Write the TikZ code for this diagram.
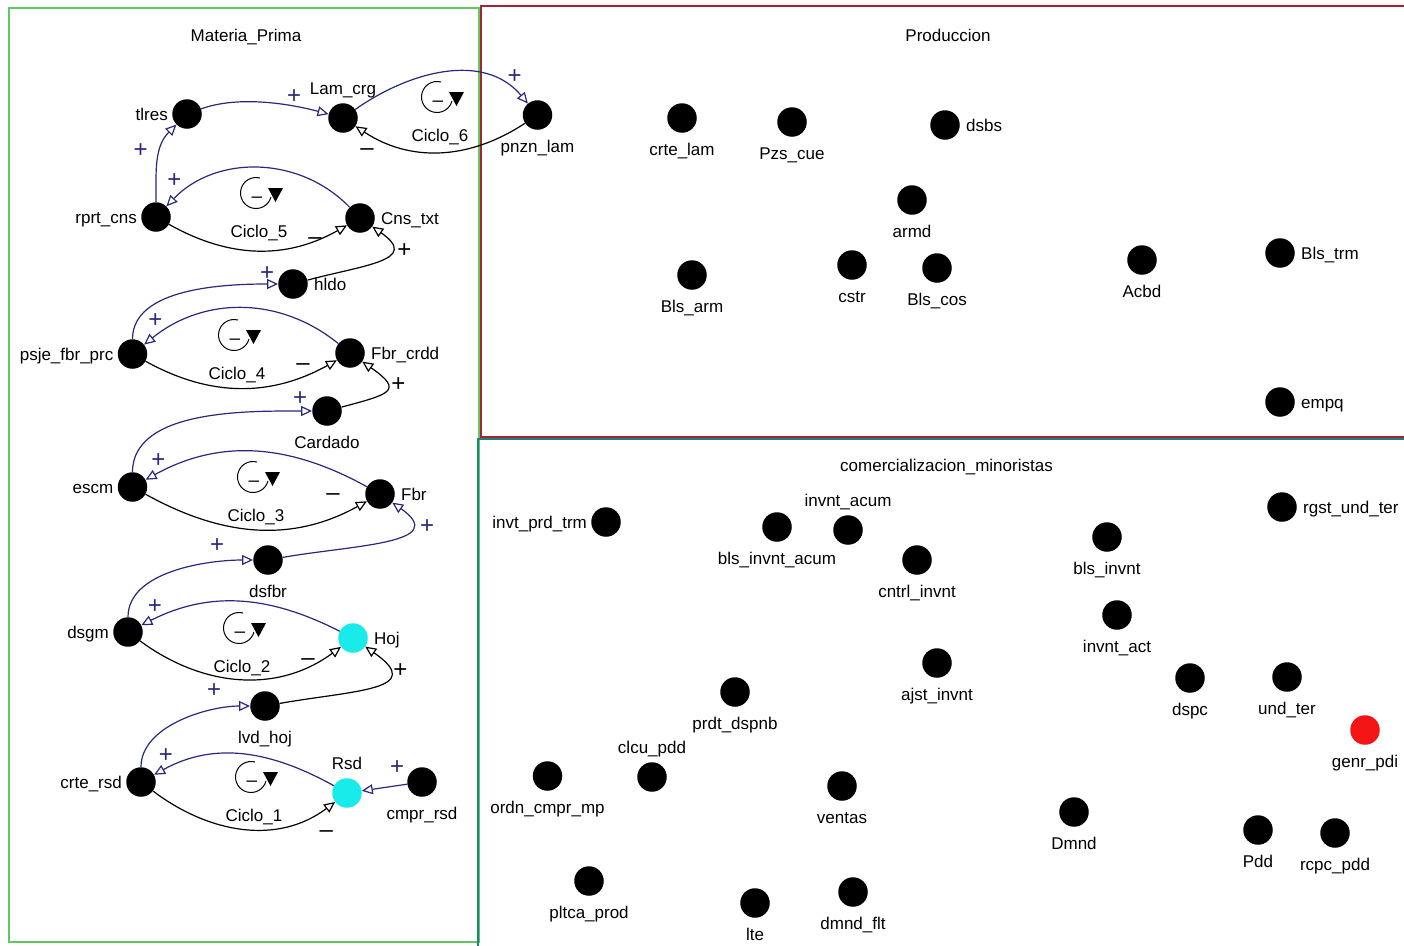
\documentclass[tikz,border=0pt]{standalone}
\usepackage[no-math]{fontspec}
\setmainfont{Liberation Sans}
\usetikzlibrary{arrows.meta,positioning}

\definecolor{lnkblue}{RGB}{40,40,125}
\definecolor{mpgreen}{RGB}{95,200,95}
\definecolor{prodred}{RGB}{165,35,55}
\definecolor{comteal}{RGB}{30,130,120}
\definecolor{dotcyan}{RGB}{25,235,235}
\definecolor{dotred}{RGB}{245,20,20}

\begin{document}
\begin{tikzpicture}[x=1pt, y=1pt,
  font=\fontsize{17}{20}\selectfont,
  txt/.style={inner sep=2pt, text height=12.5pt, text depth=3.5pt},
  every label/.style={inner sep=2pt, text height=12.5pt, text depth=3.5pt},
  var/.style={circle, fill=black, minimum size=29.5pt, inner sep=0pt},
  lb/.style={label={[label distance=8pt]below:#1}},
  la/.style={label={[label distance=3pt]above:#1}},
  ll/.style={label={[label distance=2pt, text height=13pt, text depth=0pt]left:#1}},
  lr/.style={label={[label distance=4pt, text height=13pt, text depth=0pt]right:#1}},
  lnk/.style={line width=1.2pt, lnkblue, -{Triangle[length=11pt, width=10pt, fill=white]}},
  pol/.style={font=\fontsize{24}{26}\selectfont, inner sep=0pt, text height=15pt, text depth=0pt},
  sgn/.style={font=\fontsize{19}{21}\selectfont, inner sep=0pt, text height=10.5pt, text depth=0pt}]

  \clip (0,0) rectangle (1404,-945);
  \useasboundingbox (0,0) rectangle (1404,-945);

  % sectors
  \draw[mpgreen, line width=2pt] (9,-8) rectangle (479,-942);
  \draw[prodred, line width=2pt] (481,-6) rectangle (1412,-437);
  \draw[comteal, line width=2pt] (478,-439) rectangle (1412,-952);
  \node[txt] (mp) at (246,-36.5) {Materia\_Prima};
  \node[txt] (prod) at (948,-36.5) {Produccion};
  \node[txt] (com) at (946.5,-466.5) {comercializacion\_minoristas};

  % Materia_Prima
  \node[var, ll=tlres] (tlres) at (187,-114) {};
  \node[var, la=Lam\_crg] (lamcrg) at (343,-118) {};
  \node[var, lb=pnzn\_lam] (pnznlam) at (537.5,-115) {};
  \node[var, ll=rprt\_cns] (rprtcns) at (156,-217) {};
  \node[var, lr=Cns\_txt] (cnstxt) at (360,-218) {};
  \node[var, lr=hldo] (hldo) at (293,-284) {};
  \node[var, ll=psje\_fbr\_prc] (psje) at (132.5,-354) {};
  \node[var, lr=Fbr\_crdd] (fbrcrdd) at (350,-353) {};
  \node[var, lb=Cardado] (cardado) at (327,-411) {};
  \node[var, ll=escm] (escm) at (132.5,-487) {};
  \node[var, lr=Fbr] (fbr) at (380,-494) {};
  \node[var, lb=dsfbr] (dsfbr) at (268,-560) {};
  \node[var, ll=dsgm] (dsgm) at (128,-632) {};
  \node[var, fill=dotcyan, lr=Hoj] (hoj) at (353,-638) {};
  \node[var, lb=lvd\_hoj] (lvdhoj) at (265,-706) {};
  \node[var, ll=crte\_rsd] (crtersd) at (141,-782) {};
  \node[var, fill=dotcyan, la=Rsd] (rsd) at (347,-793) {};
  \node[var, lb=cmpr\_rsd] (cmprrsd) at (422,-782) {};

  % Produccion
  \node[var, lb=crte\_lam] (crtelam) at (682,-118) {};
  \node[var, lb=Pzs\_cue] (pzscue) at (792,-122) {};
  \node[var, lr=dsbs] (dsbs) at (945,-125) {};
  \node[var, lb=armd] (armd) at (912,-200) {};
  \node[var, lb=Bls\_arm] (blsarm) at (692,-275) {};
  \node[var, lb=cstr] (cstr) at (852,-265) {};
  \node[var, lb=Bls\_cos] (blscos) at (937,-268) {};
  \node[var, lb=Acbd] (acbd) at (1142,-260) {};
  \node[var, lr=Bls\_trm] (blstrm) at (1280,-253) {};
  \node[var, lr=empq] (empq) at (1280,-402) {};

  % comercializacion_minoristas
  \node[var, ll=invt\_prd\_trm] (invtprdtrm) at (606,-522) {};
  \node[var, lb=bls\_invnt\_acum] (blsinvntacum) at (777,-527) {};
  \node[var, la=invnt\_acum] (invntacum) at (848,-530) {};
  \node[var, lb=cntrl\_invnt] (cntrlinvnt) at (917,-560) {};
  \node[var, lb=bls\_invnt] (blsinvnt) at (1107,-537) {};
  \node[var, lr=rgst\_und\_ter] (rgstundter) at (1282,-507) {};
  \node[var, lb=invnt\_act] (invntact) at (1117,-615) {};
  \node[var, lb=ajst\_invnt] (ajstinvnt) at (937,-663) {};
  \node[var, lb=prdt\_dspnb] (prdtdspnb) at (735,-692) {};
  \node[var, la=clcu\_pdd] (clcupdd) at (652,-777) {};
  \node[var, lb=ordn\_cmpr\_mp] (ordncmprmp) at (547.5,-776) {};
  \node[var, lb=ventas] (ventas) at (842,-786) {};
  \node[var, lb=dspc] (dspc) at (1190,-678) {};
  \node[var, lb=und\_ter] (undter) at (1287,-677) {};
  \node[var, fill=dotred, lb=genr\_pdi] (genrpdi) at (1365,-730) {};
  \node[var, lb=Dmnd] (dmnd) at (1074,-812) {};
  \node[var, lb=Pdd] (pdd) at (1258,-830) {};
  \node[var, lb=rcpc\_pdd] (rcpcpdd) at (1335,-833) {};
  \node[var, lb=pltca\_prod] (pltcaprod) at (589,-881) {};
  \node[var, lb=lte] (lte) at (755,-903) {};
  \node[var, lb=dmnd\_flt] (dmndflt) at (853,-892) {};

  % positive links
  \path[lnk]
  (tlres) edge[out=20, in=165, looseness=0.8] node[pol, pos=1, xshift=-34.5pt, yshift=17.75pt]{+} (lamcrg)
  (lamcrg) edge[out=35, in=130] node[pol, pos=1, xshift=-13.2pt, yshift=27.4pt]{+} (pnznlam)
  (rprtcns) edge[out=90, in=225] node[pol, pos=1, xshift=-35.75pt, yshift=-25.75pt]{+} (tlres)
  (cnstxt) edge[out=134, in=46] node[pol, pos=1, xshift=7.9pt, yshift=26.6pt]{+} (rprtcns)
  (psje) edge[out=90, in=180, looseness=0.85] node[pol, pos=1, xshift=-11pt, yshift=11pt]{+} (hldo)
  (fbrcrdd) edge[out=141, in=39] node[pol, pos=1, xshift=11.2pt, yshift=24.9pt]{+} (psje)
  (escm) edge[out=90, in=180, looseness=0.85] node[pol, pos=1, xshift=-12pt, yshift=13.5pt]{+} (cardado)
  (fbr) edge[out=151, in=29] node[pol, pos=1, xshift=12.8pt, yshift=20pt]{+} (escm)
  (dsfbr) edge[out=10, in=-35, looseness=1.5] node[pol, pos=1, xshift=34.8pt, yshift=-23.5pt]{+} (fbr)
  (dsgm) edge[out=90, in=180, looseness=0.85] node[pol, pos=1, xshift=-36pt, yshift=15.5pt]{+} (dsfbr)
  (hoj) edge[out=153, in=27] node[pol, pos=1, xshift=13.6pt, yshift=18.9pt]{+} (dsgm)
  (crtersd) edge[out=90, in=180, looseness=0.85] node[pol, pos=1, xshift=-36pt, yshift=16pt]{+} (lvdhoj)
  (rsd) edge[out=151, in=29] node[pol, pos=1, xshift=11.8pt, yshift=19.5pt]{+} (crtersd)
  (cmprrsd) edge node[pol, pos=1, xshift=35.3pt, yshift=24.2pt]{+} (rsd);

  % black links
  \path[lnk, black]
  (pnznlam) edge[out=213.5, in=-33.5] node[pol, pos=1, xshift=11.6pt, yshift=-22pt]{–} (lamcrg)
  (rprtcns) edge[out=-29.5, in=209.5] node[pol, pos=1, xshift=-31.9pt, yshift=-11.6pt]{–} (cnstxt)
  (hldo) edge[out=15, in=-35, looseness=1.8] node[pol, pos=1, xshift=32.1pt, yshift=-23.7pt]{+} (cnstxt)
  (psje) edge[out=-29, in=209] node[pol, pos=1, xshift=-33.8pt, yshift=-2.7pt]{–} (fbrcrdd)
  (cardado) edge[out=15, in=-35, looseness=2.6] node[pol, pos=1, xshift=36.1pt, yshift=-22.2pt]{+} (fbrcrdd)
  (escm) edge[out=-29, in=209] node[pol, pos=1, xshift=-33.8pt, yshift=8.7pt]{–} (fbr)
  (dsgm) edge[out=-36.5, in=216.5] node[pol, pos=1, xshift=-33pt, yshift=-11.1pt]{–} (hoj)
  (lvdhoj) edge[out=10, in=-35, looseness=1.9] node[pol, pos=1, xshift=35.1pt, yshift=-23.7pt]{+} (hoj)
  (crtersd) edge[out=-37, in=217] node[pol, pos=1, xshift=-8.7pt, yshift=-28.3pt]{–} (rsd);

  % loop markers
  \foreach \cx/\cy/\n in {437/97/6, 256/193/5, 234/335/4, 253/477/3, 239/628/2, 251/777/1}{
    \draw[line width=1pt] (\cx,-\cy) ++(75:15.5) arc[start angle=75, end angle=345, radius=15.5];
    \fill (\cx+12,-\cy+5) -- (\cx+27,-\cy+5) -- (\cx+19.5,-\cy-9) -- cycle;
    \node[sgn] (sgn\n) at (\cx+1,-\cy-4) {–};
    \node[txt] (ciclo\n) at (\cx+3,-\cy-39.5) {Ciclo\_\n};
  }
\end{tikzpicture}
\end{document}
